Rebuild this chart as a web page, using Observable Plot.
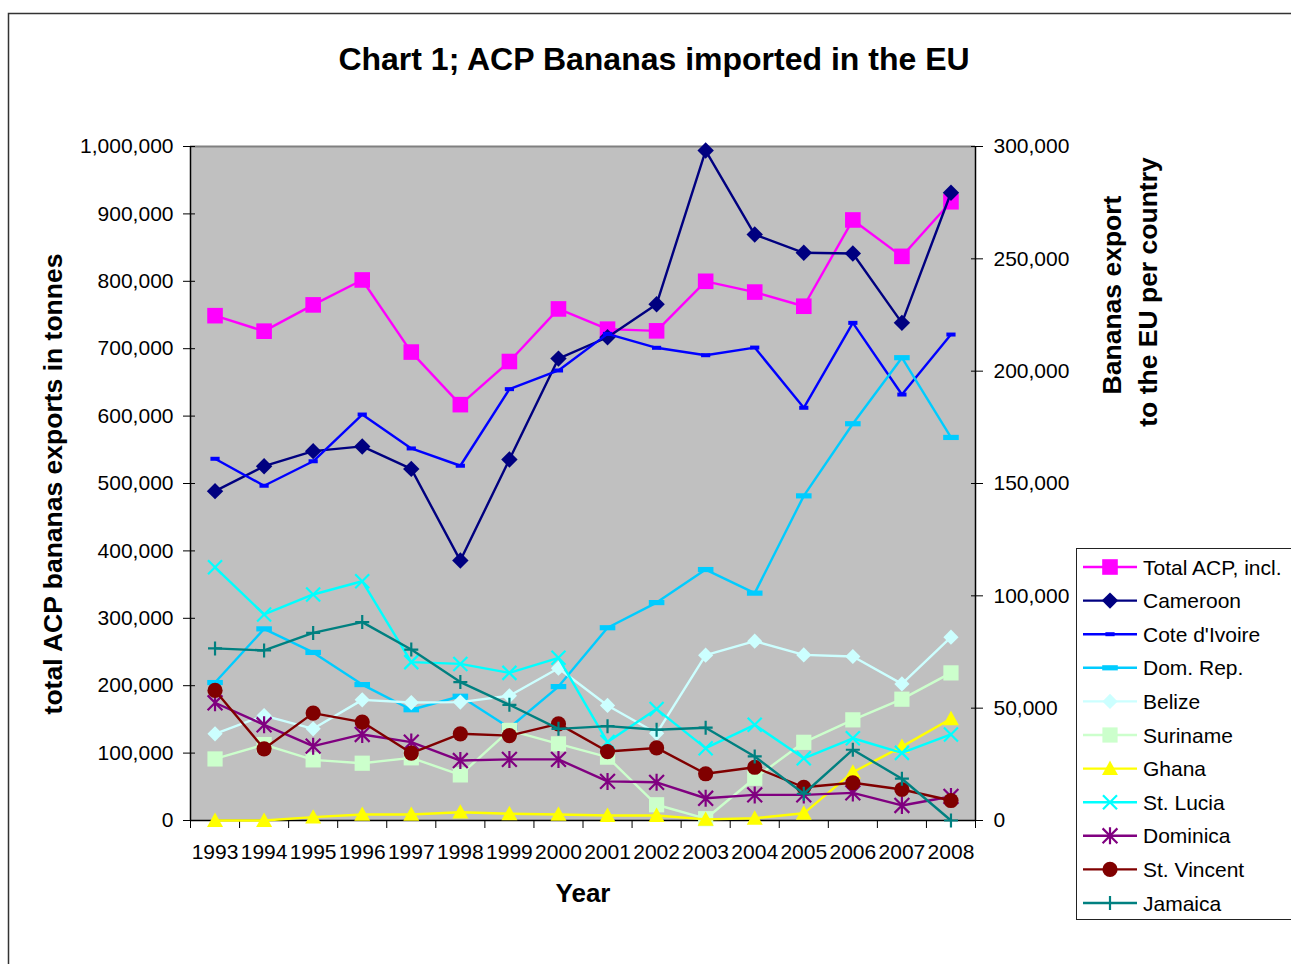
<!DOCTYPE html>
<html><head><meta charset="utf-8">
<script src="https://cdn.jsdelivr.net/npm/d3@7"></script>
<script src="https://cdn.jsdelivr.net/npm/@observablehq/plot@0.6"></script>
<style>
html,body{margin:0;padding:0;background:#fff;overflow:hidden;}
#chart{position:relative;width:1291px;height:964px;}
</style></head><body><div id="chart"></div>
<script>
// ---- data (tonnes) ----
const years = [1993,1994,1995,1996,1997,1998,1999,2000,2001,2002,2003,2004,2005,2006,2007,2008];
// left axis
const totalACP   = [749000,726000,765000,802000,695000,617000,681000,759000,729000,726500,800000,784000,763000,891000,837000,918000];
// right axis (per country)
const cameroon   = [146600,157700,164400,166500,156500,115700,160700,205600,215100,229800,298200,260800,252700,252400,221500,279400];
const coteDIvoire= [161000,149000,159900,180700,165600,157900,192000,200300,216600,210400,207100,210500,183700,221500,189600,216300];
const domRep     = [61400,85300,74800,60500,49300,55300,41300,59600,85800,97000,111700,101200,144500,176600,206000,170500];
const belize     = [38600,46700,40800,53700,52500,52700,55500,67800,51200,38800,73600,79800,73700,73000,60800,81600];
const suriname   = [27400,33800,27000,25500,27900,20300,40100,34100,28200,7000,800,18800,34800,44800,54000,65700];
const ghana      = [0,0,1500,2700,2700,3700,3000,2700,2200,2200,500,1000,3200,21500,32900,45300];
const stLucia    = [112700,91700,100600,106500,70500,69700,65700,72400,34900,49600,32200,42600,27700,36600,30100,38300];
const dominica   = [52400,42600,33100,38300,34900,26700,27200,27200,17400,17000,9900,11400,11400,12300,6700,10700];
const stVincent  = [57900,31900,47800,43800,30000,38600,37800,43000,30700,32300,20800,23700,14800,16800,13800,8900];
const jamaica    = [76600,75700,83500,88300,76100,61600,51500,40800,42000,40400,41300,28500,11900,31500,18600,0];

const seriesNames  = ["Total ACP, incl.","Cameroon","Cote d'Ivoire","Dom. Rep.","Belize","Suriname","Ghana","St. Lucia","Dominica","St. Vincent","Jamaica"];
const seriesValues = [totalACP,cameroon,coteDIvoire,domRep,belize,suriname,ghana,stLucia,dominica,stVincent,jamaica];
const seriesAxis   = ["left","right","right","right","right","right","right","right","right","right","right"];
const seriesColors = ["#FF00FF","#000080","#0000FF","#00CCFF","#CCFFFF","#CCFFCC","#FFFF00","#00FFFF","#800080","#800000","#008080"];
const seriesSymbol = ["square","diamond","dashS","dashL","diamond","square","triangle","x","asterisk","circle","plus"];
const seriesR      = [7.8,8.2,4.6,7.8,7.6,7.6,8,7,7.4,7.6,7];

const leftTicks  = [0,100000,200000,300000,400000,500000,600000,700000,800000,900000,1000000];
const rightTicks = [0,50000,100000,150000,200000,250000,300000];
const xBounds = [1992.5,1993.5,1994.5,1995.5,1996.5,1997.5,1998.5,1999.5,2000.5,2001.5,2002.5,2003.5,2004.5,2005.5,2006.5,2007.5,2008.5];

const K = 1000000/300000; // right axis -> left axis units

// ---- symbols ----
const rOf = s => Math.sqrt(s/Math.PI);
const symbols = {
  square:{draw(c,s){const r=rOf(s);c.rect(-r,-r,2*r,2*r);}},
  diamond:{draw(c,s){const r=rOf(s);c.moveTo(0,-r);c.lineTo(r,0);c.lineTo(0,r);c.lineTo(-r,0);c.closePath();}},
  dashS:{draw(c,s){const r=rOf(s);c.rect(-r,-2,2*r,4);}},
  dashL:{draw(c,s){const r=rOf(s);c.rect(-r,-2.6,2*r,5.2);}},
  triangle:{draw(c,s){const r=rOf(s);c.moveTo(0,-r);c.lineTo(r,r*0.8);c.lineTo(-r,r*0.8);c.closePath();}},
  x:{draw(c,s){const r=rOf(s);c.moveTo(-r,-r);c.lineTo(r,r);c.moveTo(r,-r);c.lineTo(-r,r);}},
  asterisk:{draw(c,s){const r=rOf(s);c.moveTo(-r,-r);c.lineTo(r,r);c.moveTo(r,-r);c.lineTo(-r,r);c.moveTo(0,-r*1.15);c.lineTo(0,r*1.15);}},
  plus:{draw(c,s){const r=rOf(s);c.moveTo(-r,0);c.lineTo(r,0);c.moveTo(0,-r);c.lineTo(0,r);}},
  circle:{draw(c,s){const r=rOf(s);c.moveTo(r,0);c.arc(0,0,r,0,2*Math.PI);}}
};
const strokeOnly = new Set(["x","asterisk","plus"]);

const fmt = d3.format(",");

const seriesMarks = [];
seriesNames.forEach((name,i)=>{
  const rows = years.map((yr,j)=>({series:name, year:yr, value:seriesValues[i][j],
    y: seriesAxis[i]==="left" ? seriesValues[i][j] : seriesValues[i][j]*K}));
  const col = seriesColors[i];
  const so = strokeOnly.has(seriesSymbol[i]);
  seriesMarks.push(Plot.line(rows,{x:"year",y:"y",stroke:col,strokeWidth:2.4}));
  seriesMarks.push(Plot.dot(rows,{x:"year",y:"y",symbol:symbols[seriesSymbol[i]],r:seriesR[i],
    fill: so ? "none" : col, stroke: so ? col : "none", strokeWidth: so ? 2.2 : 0}));
});

const svgEl = Plot.plot({
  width:1291, height:964,
  marginLeft:190, marginRight:316, marginTop:146, marginBottom:144,
  x:{type:"linear", domain:[1992.5,2008.5], label:null},
  y:{domain:[0,1000000], label:null},
  style:{fontFamily:"'Liberation Sans', Arial, sans-serif", fontSize:"21px", color:"#000", background:"#fff", overflow:"visible"},
  marks:[
    Plot.frame({fill:"#c0c0c0", stroke:"none"}),
    Plot.ruleY([1000000],{stroke:"#808080", strokeWidth:2}),
    Plot.ruleX([1992.5,2008.5],{stroke:"#000", strokeWidth:1.5}),
    Plot.ruleY([0],{stroke:"#000", strokeWidth:1.5}),
    Plot.axisY({anchor:"left", ticks:leftTicks, tickSize:12, dx:5, tickFormat:()=>"", label:null}),
    Plot.axisY({anchor:"left", ticks:leftTicks, tickSize:0, tickPadding:17, tickFormat:fmt, label:null}),
    Plot.axisY({anchor:"right", ticks:rightTicks.map(t=>t*K), tickSize:12, dx:-5, tickFormat:()=>"", label:null}),
    Plot.axisY({anchor:"right", ticks:rightTicks.map(t=>t*K), tickSize:0, tickPadding:18, tickFormat:d=>fmt(Math.round(d/K)), label:null}),
    Plot.axisX({ticks:xBounds, tickSize:8, tickFormat:()=>"", label:null}),
    Plot.axisX({ticks:years, tickSize:0, tickPadding:24, tickFormat:d=>String(d), label:null}),
    ...seriesMarks
  ]
});
document.getElementById("chart").appendChild(svgEl);

// ---- decorations: frame, titles, legend ----
const svg = d3.select(svgEl);
const ff = "'Liberation Sans', Arial, sans-serif";
svg.append("path").attr("d","M8.5,964 L8.5,13.5 L1291,13.5").attr("fill","none").attr("stroke","#333").attr("stroke-width",1.5);
svg.append("text").attr("x",654).attr("y",70).attr("text-anchor","middle").attr("font-family",ff)
  .attr("font-size",32).attr("font-weight","bold").text("Chart 1; ACP Bananas imported in the EU");
svg.append("text").attr("x",583).attr("y",902).attr("text-anchor","middle").attr("font-family",ff)
  .attr("font-size",26).attr("font-weight","bold").text("Year");
svg.append("text").attr("transform","translate(62,484) rotate(-90)").attr("text-anchor","middle").attr("font-family",ff)
  .attr("font-size",26.5).attr("font-weight","bold").text("total ACP bananas exports in tonnes");
svg.append("text").attr("transform","translate(1121,295) rotate(-90)").attr("text-anchor","middle").attr("font-family",ff)
  .attr("font-size",26.5).attr("font-weight","bold").text("Bananas export");
svg.append("text").attr("transform","translate(1157,292) rotate(-90)").attr("text-anchor","middle").attr("font-family",ff)
  .attr("font-size",26.5).attr("font-weight","bold").text("to the EU per country");

const lg = svg.append("g");
lg.append("rect").attr("x",1076.5).attr("y",548.5).attr("width",260).attr("height",371)
  .attr("fill","#fff").attr("stroke","#222").attr("stroke-width",1);
seriesNames.forEach((name,i)=>{
  const cy = 567 + i*33.6;
  const col = seriesColors[i];
  const so = strokeOnly.has(seriesSymbol[i]);
  lg.append("line").attr("x1",1083).attr("x2",1137).attr("y1",cy).attr("y2",cy).attr("stroke",col).attr("stroke-width",2.4);
  lg.append("path").attr("transform",`translate(1110,${cy})`)
    .attr("d", d3.symbol(symbols[seriesSymbol[i]], seriesR[i]*seriesR[i]*Math.PI)())
    .attr("fill", so ? "none" : col).attr("stroke", so ? col : "none").attr("stroke-width", so ? 2.2 : 0);
  lg.append("text").attr("x",1143).attr("y",cy+7.5).attr("text-anchor","start").attr("font-family",ff).attr("font-size",21).text(name);
});
</script>
</body></html>
